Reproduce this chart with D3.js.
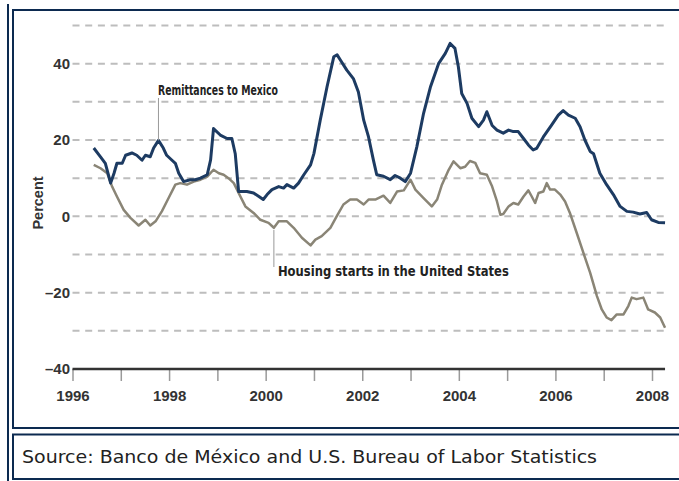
<!DOCTYPE html>
<html>
<head>
<meta charset="utf-8">
<script src="https://cdn.jsdelivr.net/npm/d3@7"></script>
<style>
  html, body { margin: 0; padding: 0; background: #fff; }
  svg { display: block; }
</style>
</head>
<body>
<svg id="chart" width="679" height="481"></svg>
<script>
// Year-over-year change, percent. Points are [decimal year, value].
const remittances = [
  [1996.44,17.9],[1996.58,15.6],[1996.68,13.9],[1996.79,8.7],[1996.86,11.3],[1996.92,13.9],
  [1997.03,13.9],[1997.10,16.0],[1997.23,16.6],[1997.33,16.0],[1997.44,14.7],[1997.51,16.0],
  [1997.61,15.6],[1997.68,17.9],[1997.78,19.9],[1997.88,17.9],[1997.95,16.0],[1998.06,14.7],
  [1998.13,13.9],[1998.20,11.3],[1998.30,9.1],[1998.44,9.6],[1998.54,9.6],[1998.65,10.0],
  [1998.79,10.9],[1998.86,14.8],[1998.92,23.0],[1999.06,21.3],[1999.20,20.4],[1999.30,20.4],
  [1999.37,16.4],[1999.44,6.5],[1999.61,6.5],[1999.75,6.1],[1999.86,5.2],[1999.95,4.4],
  [2000.03,5.7],[2000.13,7.0],[2000.27,7.8],[2000.37,7.4],[2000.44,8.3],[2000.58,7.4],
  [2000.68,8.7],[2000.79,10.9],[2000.93,13.5],[2001.00,16.5],[2001.13,25.2],[2001.27,33.9],
  [2001.41,41.8],[2001.48,42.3],[2001.55,40.9],[2001.68,38.3],[2001.82,36.0],[2001.92,32.6],
  [2002.03,25.2],[2002.13,20.8],[2002.23,14.8],[2002.30,10.9],[2002.44,10.5],[2002.58,9.6],
  [2002.68,10.7],[2002.79,10.0],[2002.89,9.1],[2003.00,11.3],[2003.13,18.2],[2003.27,27.0],
  [2003.41,33.8],[2003.58,40.0],[2003.72,42.7],[2003.82,45.3],[2003.92,44.0],[2003.99,39.2],
  [2004.06,32.2],[2004.17,29.6],[2004.27,25.7],[2004.41,23.5],[2004.51,25.2],[2004.58,27.4],
  [2004.69,23.8],[2004.79,22.6],[2004.92,21.8],[2005.03,22.6],[2005.13,22.2],[2005.23,22.2],
  [2005.34,20.4],[2005.44,18.7],[2005.54,17.4],[2005.61,17.8],[2005.75,20.8],[2005.92,23.9],
  [2006.06,26.5],[2006.16,27.7],[2006.27,26.5],[2006.41,25.7],[2006.51,23.5],[2006.61,20.0],
  [2006.72,17.0],[2006.79,16.4],[2006.92,11.3],[2007.06,8.3],[2007.20,5.7],[2007.34,2.6],
  [2007.48,1.3],[2007.61,1.1],[2007.75,0.6],[2007.89,1.0],[2007.99,-0.9],[2008.13,-1.6],
  [2008.27,-1.7]
];

const housingStarts = [
  [1996.44,13.5],[1996.58,12.6],[1996.72,11.3],[1996.82,7.8],[1996.92,5.2],[1997.06,1.7],
  [1997.20,-0.4],[1997.37,-2.4],[1997.51,-0.9],[1997.61,-2.4],[1997.72,-1.3],[1997.85,1.3],
  [1997.99,4.8],[1998.13,8.3],[1998.23,8.7],[1998.37,8.3],[1998.51,9.1],[1998.65,9.6],
  [1998.79,10.4],[1998.92,12.2],[1999.03,11.3],[1999.13,10.9],[1999.23,10.0],[1999.34,8.7],
  [1999.44,6.1],[1999.58,2.6],[1999.75,0.9],[1999.89,-0.9],[2000.06,-1.7],[2000.17,-3.0],
  [2000.27,-1.3],[2000.44,-1.3],[2000.58,-3.0],[2000.75,-5.6],[2000.93,-7.6],[2001.03,-6.1],
  [2001.16,-5.2],[2001.34,-3.0],[2001.47,0.0],[2001.61,3.1],[2001.75,4.4],[2001.89,4.4],
  [2002.03,3.1],[2002.13,4.4],[2002.27,4.4],[2002.44,5.4],[2002.58,3.5],[2002.72,6.5],
  [2002.86,6.8],[2003.00,9.6],[2003.10,7.0],[2003.27,4.8],[2003.44,2.6],[2003.55,4.4],
  [2003.65,8.3],[2003.79,12.2],[2003.89,14.4],[2004.03,12.6],[2004.13,13.0],[2004.23,14.5],
  [2004.34,14.0],[2004.44,11.3],[2004.58,10.9],[2004.69,7.8],[2004.79,3.9],[2004.86,0.4],
  [2004.92,0.6],[2005.03,2.6],[2005.13,3.5],[2005.23,3.1],[2005.34,5.2],[2005.44,6.8],
  [2005.51,5.2],[2005.58,3.5],[2005.65,6.1],[2005.75,6.5],[2005.82,8.7],[2005.89,7.0],
  [2005.99,7.0],[2006.10,5.7],[2006.20,3.9],[2006.30,0.9],[2006.44,-4.3],[2006.58,-9.6],
  [2006.72,-14.8],[2006.86,-20.9],[2006.96,-24.4],[2007.06,-26.5],[2007.16,-27.2],[2007.27,-25.7],
  [2007.41,-25.7],[2007.51,-23.5],[2007.58,-21.3],[2007.68,-21.7],[2007.82,-21.3],[2007.92,-24.4],
  [2008.06,-25.2],[2008.17,-26.5],[2008.27,-29.2]
];

const yearTicks = d3.range(1996, 2009);          // a tick every year
const yearLabels = [1996, 1998, 2000, 2002, 2004, 2006, 2008];
const valueLabels = [40, 20, 0, -20, -40];
const gridLevels = [50, 40, 30, 20, 10, 0, -10, -20, -30];
const remitLabel = { text: "Remittances to Mexico", year: 1997.78 };
const housingLabel = { text: "Housing starts in the United States", year: 2000.17 };
const sourceNote = "Source: Banco de México and U.S. Bureau of Labor Statistics";

const svg = d3.select("#chart");
const frameColor = "#0c2a50";
const numFont = "'Liberation Sans', Arial, sans-serif";
const labelFont = "'DejaVu Sans Condensed', 'Liberation Sans', sans-serif";

const x = d3.scaleLinear().domain([1996, 2008]).range([72.5, 652]);
const y = d3.scaleLinear().domain([-40, 50]).range([369, 25.5]);
const xEnd = x(2008.27);

// ---- frame ----
svg.append("line").attr("x1", 8).attr("x2", 8).attr("y1", 4).attr("y2", 481)
  .attr("stroke", frameColor).attr("stroke-width", 2);
svg.append("path").attr("d", "M681,10H13V428H681")
  .attr("fill", "none").attr("stroke", frameColor).attr("stroke-width", 2);
svg.append("path").attr("d", "M681,434.5H13V479H681")
  .attr("fill", "none").attr("stroke", frameColor).attr("stroke-width", 2);

// ---- dashed gridlines ----
svg.append("g").selectAll("line").data(gridLevels).join("line")
  .attr("x1", x(1996)).attr("x2", xEnd)
  .attr("y1", d => y(d)).attr("y2", d => y(d))
  .attr("stroke", "#bdbdbd").attr("stroke-width", 2)
  .attr("stroke-dasharray", "7 5.7");

// ---- value labels ----
svg.append("g").selectAll("text").data(valueLabels).join("text")
  .attr("x", 70).attr("y", d => y(d)).attr("dy", "0.36em")
  .attr("text-anchor", "end")
  .attr("font-family", numFont).attr("font-weight", "bold").attr("font-size", 15)
  .attr("fill", "#333")
  .text(d => d < 0 ? "\u2013" + Math.abs(d) : d);

svg.append("text")
  .attr("transform", "translate(42.5,203) rotate(-90)")
  .attr("text-anchor", "middle")
  .attr("font-family", numFont).attr("font-weight", "bold").attr("font-size", 14.5)
  .attr("fill", "#333").text("Percent");

// ---- x axis ----
const xAxis = d3.axisBottom(x)
  .tickValues(yearTicks)
  .tickSize(12)
  .tickPadding(9)
  .tickFormat(d => yearLabels.includes(d) ? d : "");
const gx = svg.append("g").attr("transform", `translate(0,${y(-40)})`).call(xAxis);
gx.select(".domain").remove();
gx.selectAll(".tick line").attr("stroke", "#9a9a9a").attr("stroke-width", 1.5);
gx.selectAll(".tick text")
  .attr("font-family", numFont).attr("font-weight", "bold").attr("font-size", 15)
  .attr("fill", "#333");
svg.append("line").attr("x1", x(1996)).attr("x2", xEnd)
  .attr("y1", y(-40)).attr("y2", y(-40))
  .attr("stroke", "#333").attr("stroke-width", 2.5);

// ---- series ----
const line = d3.line().x(d => x(d[0])).y(d => y(d[1]));
svg.append("path").datum(housingStarts).attr("d", line)
  .attr("fill", "none").attr("stroke", "#8a8576").attr("stroke-width", 2.5)
  .attr("stroke-linejoin", "round");
svg.append("path").datum(remittances).attr("d", line)
  .attr("fill", "none").attr("stroke", "#1d3b62").attr("stroke-width", 3)
  .attr("stroke-linejoin", "round");

// ---- annotations ----
const valueAt = (series, yr) => series.find(d => d[0] === yr)[1];

const rx = x(remitLabel.year);
svg.append("line").attr("x1", rx).attr("x2", rx)
  .attr("y1", 98).attr("y2", y(valueAt(remittances, remitLabel.year)))
  .attr("stroke", "#999").attr("stroke-width", 1);
svg.append("text").attr("x", rx - 0.5).attr("y", 95)
  .attr("font-family", labelFont).attr("font-weight", "bold").attr("font-size", 14.5)
  .attr("textLength", 120).attr("lengthAdjust", "spacingAndGlyphs")
  .attr("fill", "#222").text(remitLabel.text);

const hx = x(housingLabel.year);
svg.append("line").attr("x1", hx).attr("x2", hx)
  .attr("y1", y(valueAt(housingStarts, housingLabel.year)) + 2).attr("y2", 267)
  .attr("stroke", "#999").attr("stroke-width", 1);
svg.append("text").attr("x", hx + 4).attr("y", 276)
  .attr("font-family", labelFont).attr("font-weight", "bold").attr("font-size", 14.5)
  .attr("textLength", 231).attr("lengthAdjust", "spacingAndGlyphs")
  .attr("fill", "#222").text(housingLabel.text);

// ---- source line ----
svg.append("text").attr("x", 22).attr("y", 463)
  .attr("font-family", "'DejaVu Sans', Verdana, sans-serif").attr("font-size", 17)
  .attr("textLength", 575).attr("lengthAdjust", "spacingAndGlyphs")
  .attr("fill", "#222").text(sourceNote);
</script>
</body>
</html>
